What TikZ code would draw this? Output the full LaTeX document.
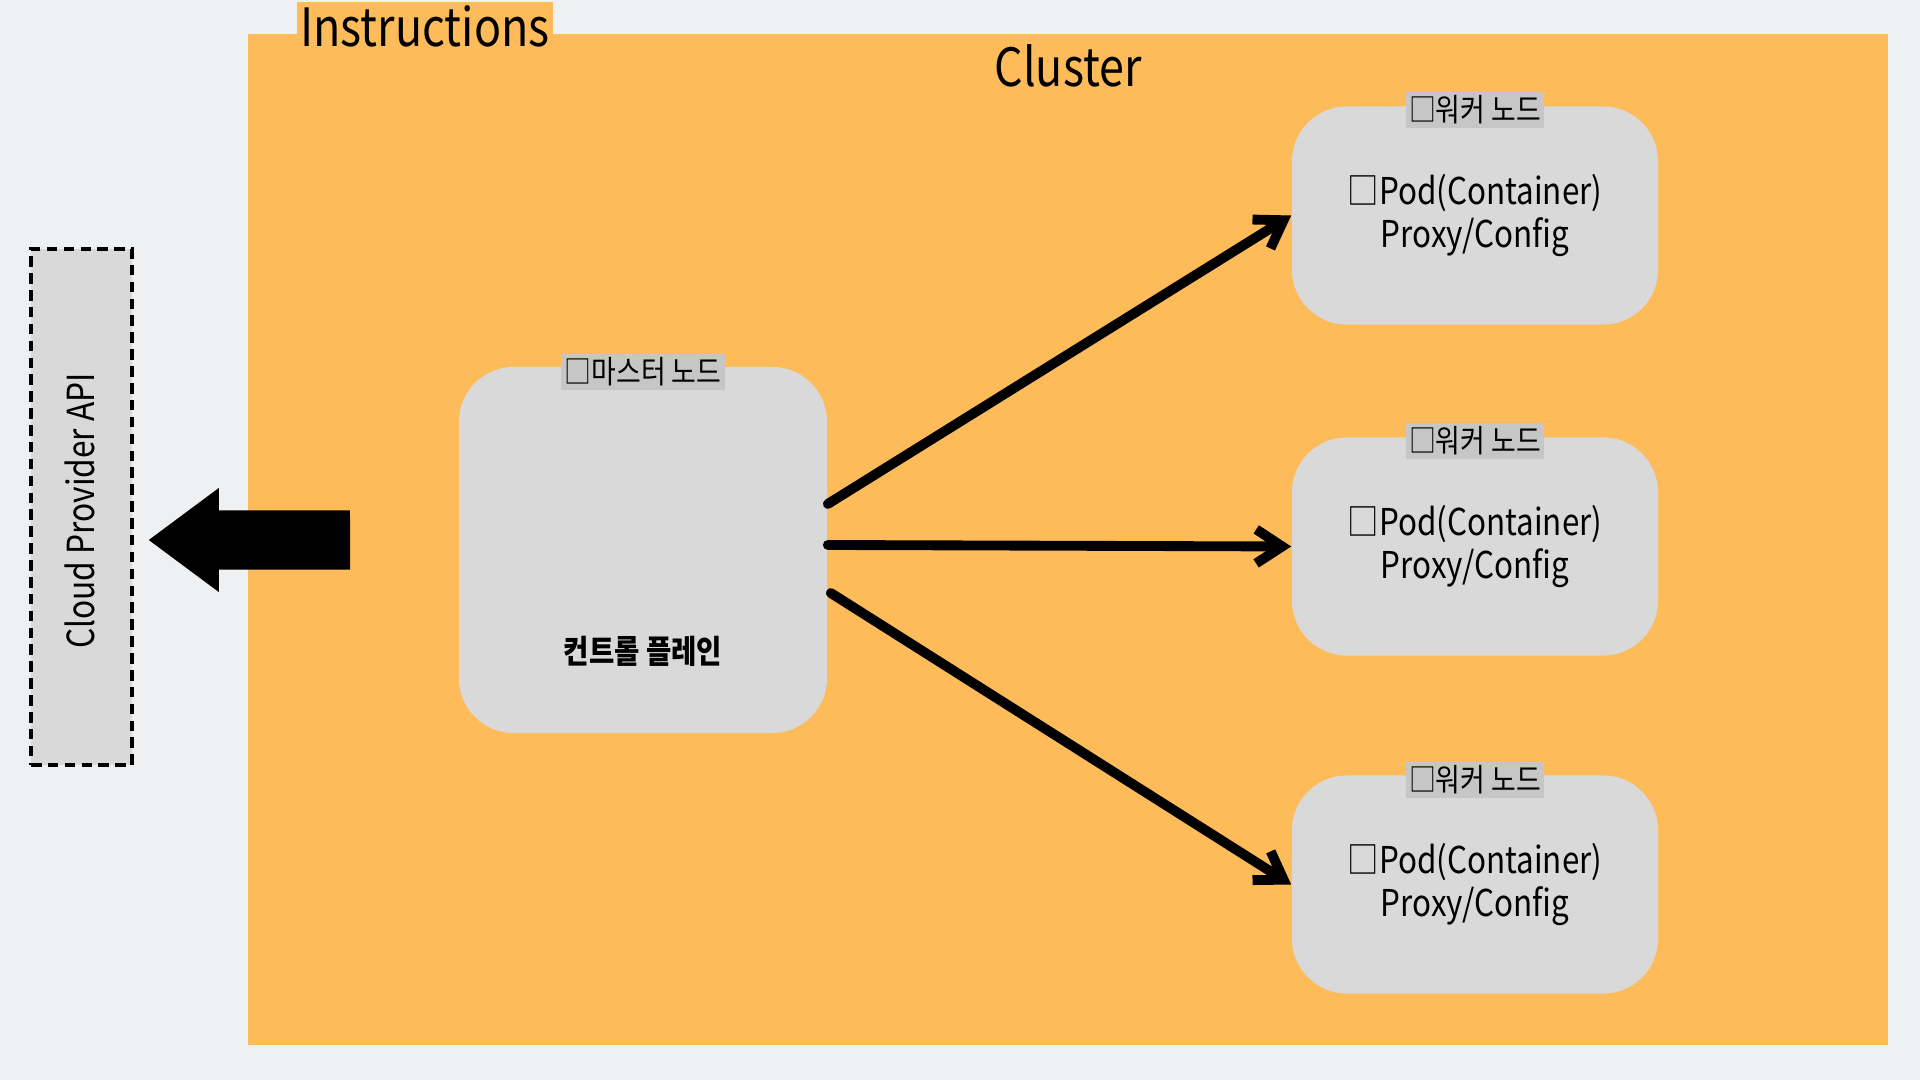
\documentclass[tikz,border=0pt]{standalone}
\usepackage{fontspec}
\setmainfont{Noto Sans CJK KR}[FakeStretch=0.85]
\usepackage{tikz}
\usetikzlibrary{shapes,arrows.meta,positioning}
\definecolor{PageGray}{HTML}{EFF0F2}
\definecolor{ClusterOrange}{HTML}{FDBB5A}
\definecolor{NodeGray}{HTML}{D9D9D9}
\definecolor{LabelGray}{HTML}{C6C6C6}
\tikzset{
    % Base node style
    basenode/.style={
        fill=NodeGray,
        rounded corners=0.55cm,
        inner sep=0pt,
        align=center
    },
    % Master node style
    masternode/.style={
        basenode,
        minimum width=3.68cm,
        minimum height=3.66cm
    },
    % Worker node style
    workernode/.style={
        basenode,
        minimum width=3.66cm,
        minimum height=2.18cm,
        font=\fontsize{10.5}{12.4}\selectfont
    },
    % Title on top of a node
    titlelabel/.style={
        fill=LabelGray,
        inner sep=1pt,
        font=\fontsize{9}{11}\selectfont
    },
    % Big heading style
    headlabel/.style={
        inner sep=1pt,
        font=\fontsize{15}{18}\selectfont
    },
    % Cloud API box
    apibox/.style={
        draw=black,
        dash pattern=on 3pt off 1.8pt,
        line width=1pt,
        fill=NodeGray,
        minimum width=1.01cm,
        minimum height=5.16cm
    },
    % Arrow styles
    myarrow/.style={
        -{Straight Barb[length=2.6mm,width=3.4mm]},
        line width=2.8pt,
        line cap=round,
        draw=black
    },
    pusharrow/.style={
        -{Triangle[length=7mm 0 0,width=10.4mm 0 0,line width=0pt 0 0]},
        line width=5.9mm,
        draw=black
    }
}
\begin{document}
\begin{tikzpicture}[x=0.01cm, y=-0.01cm]
        % Page
        \fill[PageGray, use as bounding box] (0,0) rectangle (1920,1080);

        % Cluster area
        \node[fill=ClusterOrange, inner sep=0pt, minimum width=16.39cm, minimum height=10.1cm] (cluster) at (1068.3,539.4) {};
        \node[headlabel, fill=ClusterOrange] (instr) at (425,26) {Instructions};
        \node[headlabel] (clustertitle) at (1068,66) {Cluster};

        % Master
        \node[masternode] (master) at (643,550) {};
        \node[titlelabel] (mastertitle) at (643,372) {□마스터 노드};
        \node[font=\fontsize{9.2}{11}\selectfont\bfseries] (plane) at (643,651) {컨트롤 플레인};

        % Workers
        \node[workernode] (worker1) at (1475,215.5) {□Pod(Container)\\Proxy/Config};
        \node[workernode] (worker2) at (1475,546.5) {□Pod(Container)\\Proxy/Config};
        \node[workernode] (worker3) at (1475,884.5) {□Pod(Container)\\Proxy/Config};
        \node[titlelabel] (worker1title) at (1475,110) {□워커 노드};
        \node[titlelabel] (worker2title) at (1475,441) {□워커 노드};
        \node[titlelabel] (worker3title) at (1475,780) {□워커 노드};

        % Cloud provider
        \node[apibox] (api) at (81.5,507) {};
        \node[rotate=90, font=\fontsize{10.6}{12}\selectfont] (apitext) at (80,511) {Cloud Provider API};

        % Arrows
        \draw[myarrow] ([yshift=0.46cm]master.east) -- (worker1.west);
        \draw[myarrow] ([yshift=0.05cm]master.east) -- (worker2.west);
        \draw[myarrow] ([xshift=0.03cm,yshift=-0.43cm]master.east) -- (worker3.west);

        \coordinate (pushtail) at (350,540);
        \draw[pusharrow] (pushtail) -- ([xshift=0.15cm,yshift=-0.33cm]api.east);
    \end{tikzpicture}
\end{document}
